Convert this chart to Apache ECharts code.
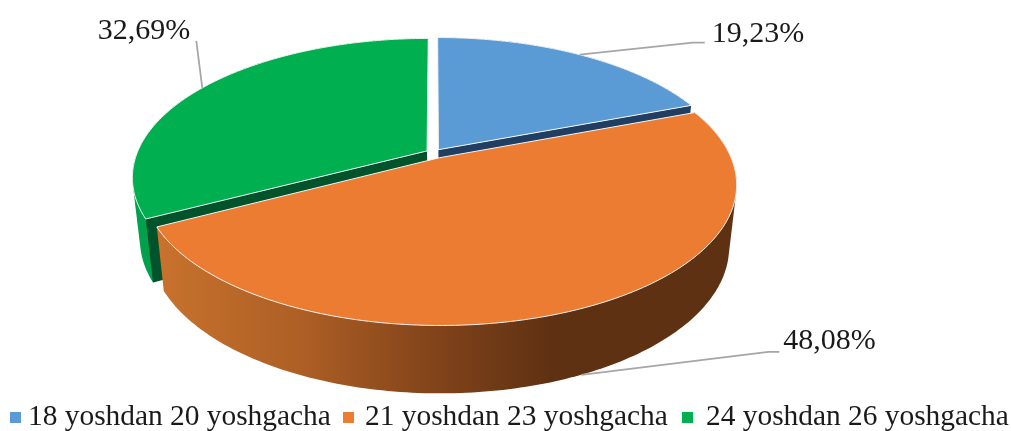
<!DOCTYPE html>
<html>
<head>
<meta charset="utf-8">
<style>html,body{margin:0;padding:0;background:#fff;overflow:hidden}#c{width:1011px;height:431px}</style>
<script src="https://cdn.jsdelivr.net/npm/echarts@6/dist/echarts.min.js"></script>
</head>
<body>
<div id="c"></div>
<script>
// Data
var categories = ['18 yoshdan 20 yoshgacha', '21 yoshdan 23 yoshgacha', '24 yoshdan 26 yoshgacha'];
var shares = [19.23, 48.08, 32.69];

// Styles
var topColors = ['#5B9BD5', '#EC7C31', '#00B050'];
var wallColors = ['#1F3E61', '#7A3E14', '#00532A'];
var sideStops = [
  [[0, '#1F3E61'], [1, '#1F3E61']],
  [[0, '#C8722D'], [0.25, '#AD5F25'], [0.455, '#86461B'], [0.68, '#5F3113'], [1, '#5F3113']],
  [[0, '#00A04C'], [1, '#00A04C']]
];
var FONT = '"Liberation Serif", "Times New Roman", serif';

// Pie projection (a perspective view of a circular disc)
var view = { x0: 436, y0: 153.5, rx: 290, ry: 134.5, k: 0.189, explode: 0.03,
             depth: 61, bottomSx: 0.975, bottomSy: 1.04 };
var nudge = [[-2.5, -0.5], [0, 0.5], [-1.5, -0.5]];
// Leader line elbows relative to the rim anchor, and label offset from the leader tip
var leader = [
  { elbow: [113, -12], end: [125, -12], text: [7, -9], align: 'left', onBottom: false },
  { elbow: [187, -23], end: [198, -23], text: [4, -11], align: 'left', onBottom: true },
  { elbow: [-6, -47], end: [-6, -47], text: [-6, -10], align: 'right', onBottom: false }
];
var legendLayout = [
  { left: 10, textGap: 2 },
  { left: 343, textGap: 6 },
  { left: 682, textGap: 8 }
];

function angleList(a0, a1) {
  var list = [], n = Math.max(8, Math.ceil((a1 - a0) / (Math.PI / 180)));
  for (var i = 0; i <= n; i++) list.push(a0 + (a1 - a0) * i / n);
  return list;
}
function project(theta, radius, mid, idx) {
  var u = radius * Math.sin(theta) + view.explode * Math.sin(mid);
  var v = -radius * Math.cos(theta) - view.explode * Math.cos(mid);
  var w = 1 - view.k * v;
  return [view.x0 + nudge[idx][0] + view.rx * u / w, view.y0 + nudge[idx][1] + view.ry * v / w];
}
function lower(p) {
  return [view.x0 + (p[0] - view.x0) * view.bottomSx,
          view.y0 + view.depth + (p[1] - view.y0) * view.bottomSy];
}
function hull(points) {
  var p = points.slice().sort(function (a, b) { return a[0] - b[0] || a[1] - b[1]; });
  function cross(o, a, b) { return (a[0] - o[0]) * (b[1] - o[1]) - (a[1] - o[1]) * (b[0] - o[0]); }
  function half(list) {
    var h = [];
    list.forEach(function (q) {
      while (h.length >= 2 && cross(h[h.length - 2], h[h.length - 1], q) <= 0) h.pop();
      h.push(q);
    });
    h.pop();
    return h;
  }
  return half(p).concat(half(p.slice().reverse()));
}
function fmt(v) { return v.toFixed(2).replace('.', ',') + '%'; }

function makeRenderItem(idx) {
  return function (params, api) {
    var total = shares.reduce(function (a, b) { return a + b; }, 0);
    var before = shares.slice(0, idx).reduce(function (a, b) { return a + b; }, 0);
    var value = api.value(0);
    var a0 = before / total * 2 * Math.PI;
    var a1 = (before + value) / total * 2 * Math.PI;
    var mid = (a0 + a1) / 2;
    var angles = angleList(a0, a1);
    var rim = angles.map(function (t) { return project(t, 1, mid, idx); });
    var apex = project(0, 0, mid, idx);
    var lowApex = lower(apex);
    var firstLow = lower(rim[0]), lastLow = lower(rim[rim.length - 1]);
    // Only the front part of the lower rim can be seen
    var frontLow = angles.filter(function (t) { return Math.cos(t) < 0.2; })
      .map(function (t) { return lower(project(t, 1, mid, idx)); });
    var children = [];
    function poly(points, style) {
      children.push({ type: 'polygon', shape: { points: points }, style: style, silent: true });
    }
    // Outer side: everything swept between the upper and the lower rim
    poly(hull(rim.concat(frontLow)), {
      fill: {
        type: 'linear', global: true, x: 157, y: 0, x2: 735, y2: 0,
        colorStops: sideStops[idx].map(function (s) { return { offset: s[0], color: s[1] }; })
      }
    });
    // Cut walls that face the viewer
    if (Math.cos(a0 - Math.PI / 2) < -1e-6) {
      poly([apex, rim[0], firstLow, lowApex], { fill: wallColors[idx] });
    }
    if (Math.cos(a1 + Math.PI / 2) < -1e-6) {
      poly([apex, rim[rim.length - 1], lastLow, lowApex], { fill: wallColors[idx] });
    }
    // Top face
    poly([apex].concat(rim), {
      fill: topColors[idx], stroke: '#F4F4F4', lineWidth: 1, lineJoin: 'round'
    });
    // Leader and percentage label
    var cfg = leader[idx];
    var anchor = project(mid, 1, mid, idx);
    if (cfg.onBottom) anchor = lower(anchor);
    var elbow = [anchor[0] + cfg.elbow[0], anchor[1] + cfg.elbow[1]];
    var end = [anchor[0] + cfg.end[0], anchor[1] + cfg.end[1]];
    children.push({
      type: 'polyline', shape: { points: [anchor, elbow, end] }, silent: true,
      style: { fill: null, stroke: '#A6A6A6', lineWidth: 1.75 }
    });
    children.push({
      type: 'text', silent: true,
      style: {
        text: fmt(value), x: end[0] + cfg.text[0], y: end[1] + cfg.text[1],
        align: cfg.align, verticalAlign: 'middle',
        font: '30px ' + FONT, fill: '#1a1a1a'
      }
    });
    return { type: 'group', children: children };
  };
}

var series = [0, 2, 1].map(function (i) {
  return {
    type: 'custom', name: categories[i], coordinateSystem: 'none',
    renderItem: makeRenderItem(i), data: [[shares[i]]],
    itemStyle: { color: topColors[i] }, silent: true, animation: false
  };
});

var chart = echarts.init(document.getElementById('c'), null, { renderer: 'canvas' });
chart.setOption({
  backgroundColor: '#ffffff',
  animation: false,
  legend: categories.map(function (name, i) {
    return {
      data: [name], left: legendLayout[i].left, top: 403, padding: 0,
      itemWidth: 11, itemHeight: 11, icon: 'rect', selectedMode: false,
      textStyle: { fontFamily: FONT, fontSize: 29.4, color: '#1a1a1a', padding: [0, 0, 0, legendLayout[i].textGap] }
    };
  }),
  series: series
});
</script>
</body>
</html>
